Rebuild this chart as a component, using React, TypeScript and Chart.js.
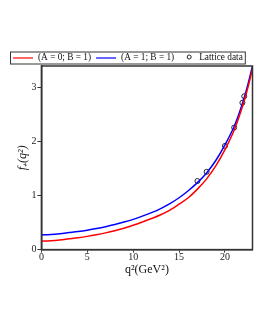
import React, { useEffect, useRef } from 'react';
import { Chart, registerables } from 'chart.js';

Chart.register(...registerables);

const q2Grid = [0, 1, 2, 3, 4, 5, 6, 7, 8, 9, 10, 11, 12, 13, 14, 15, 16, 17, 18, 19, 20, 21, 21.5, 22, 22.5, 23];
// f+(q^2), model (A = 0; B = 1)
const fRed = [0.155, 0.165, 0.18, 0.2, 0.22, 0.245, 0.275, 0.31, 0.35, 0.395, 0.45, 0.51, 0.575, 0.645, 0.73, 0.84, 0.96, 1.12, 1.31, 1.55, 1.85, 2.21, 2.44, 2.7, 3.0, 3.35];
// f+(q^2), model (A = 1; B = 1)
const fBlue = [0.27, 0.28, 0.295, 0.315, 0.335, 0.36, 0.39, 0.425, 0.465, 0.51, 0.56, 0.62, 0.685, 0.76, 0.85, 0.96, 1.09, 1.24, 1.42, 1.65, 1.94, 2.28, 2.5, 2.76, 3.06, 3.4];
// Lattice data
const latticeQ2 = [17, 18, 20, 21, 21.9, 22.1];
const latticeF = [1.27, 1.44, 1.92, 2.26, 2.72, 2.84];

const seriesLabels = ['(A = 0; B = 1)', '(A = 1; B = 1)', 'Lattice data'];
const xAxisTitle = 'q\u00B2(GeV\u00B2)';
const yAxisTitle = 'f\u208A(q\u00B2)';

const SERIF = '"Liberation Serif", "Times New Roman", serif';

const framePlugin = {
  id: 'frameAndLegend',
  afterDraw(chart: any) {
    const { ctx, chartArea: a } = chart;
    ctx.save();
    ctx.strokeStyle = '#333';
    ctx.lineWidth = 1.5;
    ctx.strokeRect(a.left, a.top, a.right - a.left, a.bottom - a.top);

    // legend
    ctx.font = '9.3px ' + SERIF;
    ctx.textBaseline = 'middle';
    const cy = a.top - 8;
    let x = 13;
    const startX = x;
    const ds = chart.data.datasets;
    for (let i = 0; i < ds.length; i++) {
      const d = ds[i];
      if (d.showLine === false) {
        x += 5;
        ctx.beginPath();
        ctx.arc(x + 5, cy - 1, 2, 0, Math.PI * 2);
        ctx.strokeStyle = '#222';
        ctx.lineWidth = 1;
        ctx.stroke();
        x += 15;
      } else {
        ctx.beginPath();
        ctx.moveTo(x, cy);
        ctx.lineTo(x + 20, cy);
        ctx.strokeStyle = d.borderColor;
        ctx.lineWidth = 1.2;
        ctx.stroke();
        x += 25;
      }
      ctx.fillStyle = '#111';
      ctx.fillText(d.label, x, cy);
      x += ctx.measureText(d.label).width + 5;
    }
    ctx.strokeStyle = '#333';
    ctx.lineWidth = 1;
    ctx.strokeRect(startX - 2.5, cy - 6, x - startX, 12);
    ctx.restore();
  },
};

export default function App() {
  const ref = useRef<HTMLCanvasElement | null>(null);

  useEffect(() => {
    if (!ref.current) return;
    const chart = new Chart(ref.current, {
      type: 'line',
      data: {
        datasets: [
          {
            label: seriesLabels[0],
            data: q2Grid.map((q, i) => ({ x: q, y: fRed[i] })),
            borderColor: 'rgb(255,0,0)',
            borderWidth: 1.5,
            pointRadius: 0,
            cubicInterpolationMode: 'monotone',
            fill: false,
          },
          {
            label: seriesLabels[1],
            data: q2Grid.map((q, i) => ({ x: q, y: fBlue[i] })),
            borderColor: 'rgb(0,0,255)',
            borderWidth: 1.5,
            pointRadius: 0,
            cubicInterpolationMode: 'monotone',
            fill: false,
          },
          {
            label: seriesLabels[2],
            data: latticeQ2.map((q, i) => ({ x: q, y: latticeF[i] })),
            showLine: false,
            borderColor: '#222',
            pointBorderColor: '#222',
            pointBackgroundColor: 'rgba(0,0,0,0)',
            pointBorderWidth: 1,
            pointRadius: 2.5,
          },
        ],
      } as any,
      options: {
        animation: false,
        responsive: true,
        maintainAspectRatio: false,
        layout: { padding: { left: 16, right: 20.5, top: 66, bottom: 50 } },
        plugins: {
          legend: { display: false },
          tooltip: { enabled: false },
        },
        scales: {
          x: {
            type: 'linear',
            min: 0,
            max: 23,
            border: { display: true, color: '#333', width: 1.5 },
            grid: { display: true, drawOnChartArea: false, drawTicks: true, tickLength: 3, color: '#333' },
            ticks: { stepSize: 5, includeBounds: false, padding: 0, color: '#222', font: { family: SERIF, size: 10, lineHeight: 1 } },
            title: { display: true, text: xAxisTitle, color: '#111', padding: { top: 0, bottom: 0 }, font: { family: SERIF, size: 12 } },
          },
          y: {
            type: 'linear',
            min: 0,
            max: 3.4,
            border: { display: true, color: '#333', width: 1.5 },
            grid: { display: true, drawOnChartArea: false, drawTicks: true, tickLength: 4, color: '#333' },
            ticks: { stepSize: 1, includeBounds: false, padding: 1, color: '#222', font: { family: SERIF, size: 10 } },
            title: { display: true, text: yAxisTitle, color: '#111', padding: { top: 0, bottom: 0 }, font: { family: SERIF, size: 12, style: 'italic' } },
          },
        },
      } as any,
      plugins: [framePlugin],
    });
    return () => chart.destroy();
  }, []);

  return (
    <div style={{ position: 'fixed', left: 0, top: 0, width: 273, height: 327, background: '#fff' }}>
      <canvas ref={ref} />
    </div>
  );
}
